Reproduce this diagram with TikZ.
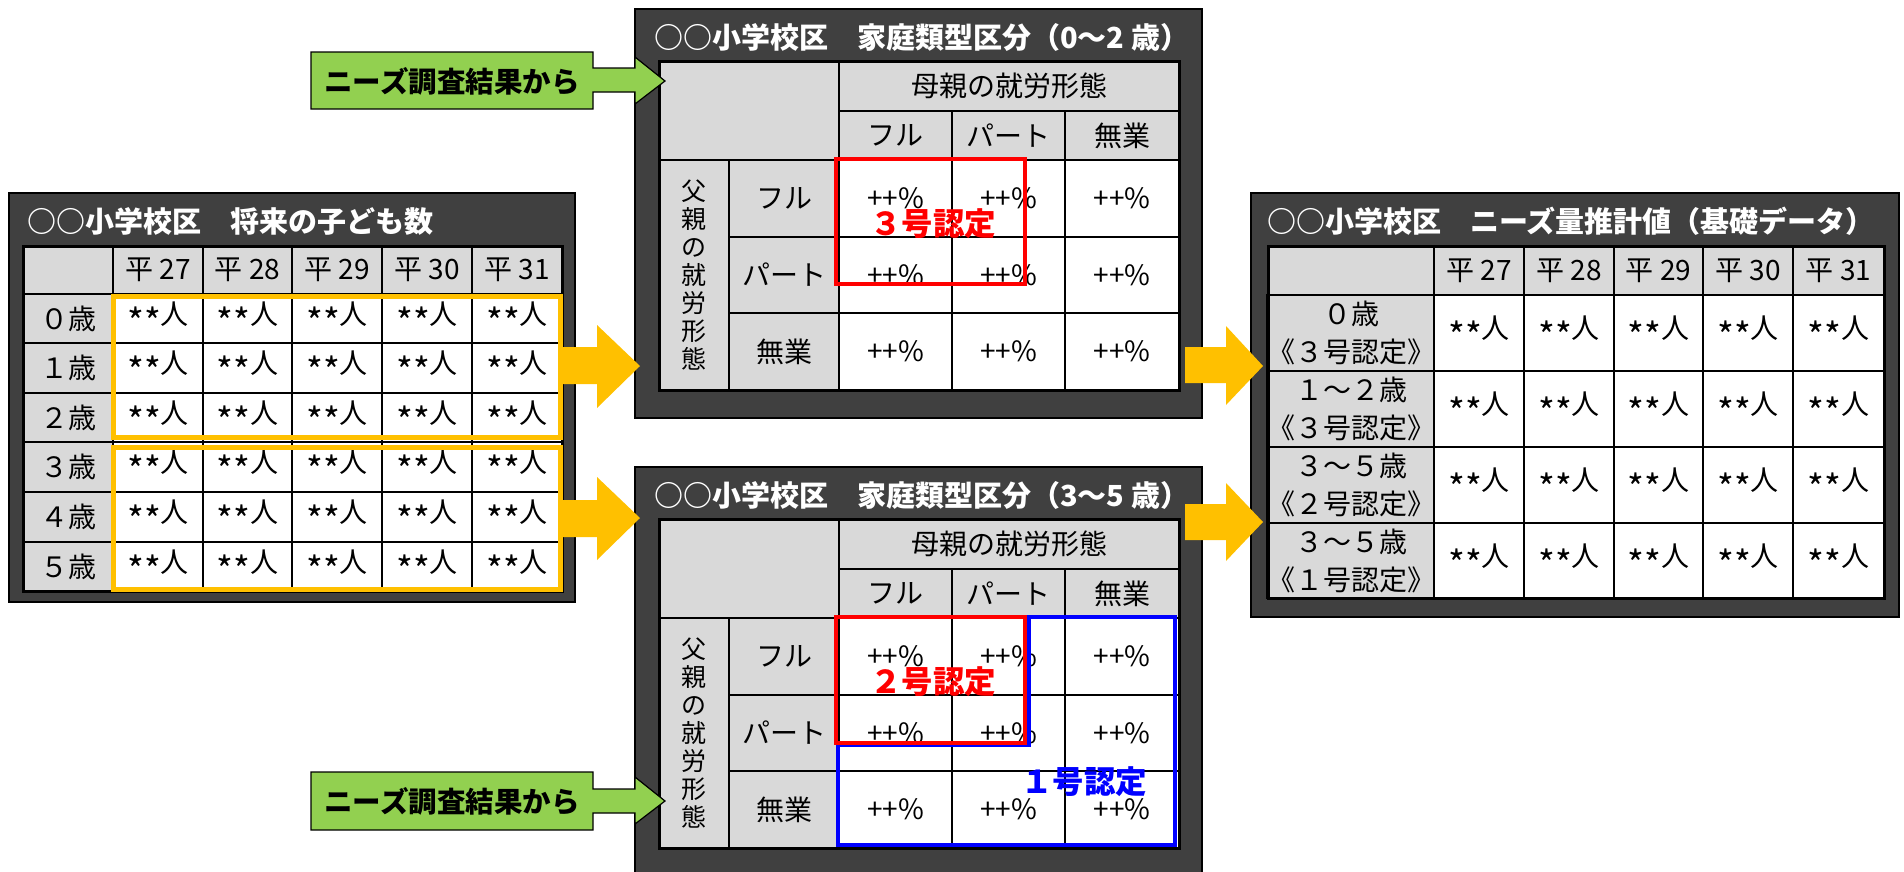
\documentclass[tikz,border=0pt]{standalone}
\usepackage{fontspec}
\setmainfont{Noto Sans CJK JP}
\definecolor{panel}{HTML}{404040}
\definecolor{hdr}{HTML}{D9D9D9}
\definecolor{ylw}{HTML}{FFC000}
\definecolor{grn}{HTML}{92D050}
\definecolor{rd}{HTML}{FF0000}
\definecolor{bl}{HTML}{0000FF}
\newcommand\fsz[2]{\fontsize{#1}{#2}\selectfont}
\newcommand\ppl{\raisebox{-11pt}{\fsz{36}{36}**}人}
% style, name, x1, y1, x2, y2, text
\newcommand\tcell[7]{\node[#1, minimum width={((#5)-(#3))*1pt}, minimum height={((#6)-(#4))*1pt}] (#2) at ({((#3)+(#5))/2},{((#4)+(#6))/2}) {#7};}
\tikzset{
  panelbox/.style={fill=panel, draw=black, line width=1.5pt, inner sep=0pt},
  hcell/.style={draw=black, line width=2pt, fill=hdr, inner sep=0pt, font=\fsz{28}{32}},
  dcell/.style={draw=black, line width=2pt, fill=white, inner sep=0pt, font=\fsz{28}{32}},
  ptitle/.style={text=white, font=\fsz{29}{32}\bfseries, anchor=west, inner sep=0pt},
  tframe/.style={draw=black, line width=3pt},
  ybox/.style={draw=ylw, line width=5pt},
  yarrow/.style={fill=ylw, draw=none},
  garrow/.style={fill=grn, draw=black, line width=1.2pt},
  gtext/.style={font=\fsz{28.5}{28.5}\bfseries, inner sep=0pt},
  rbox/.style={draw=rd, line width=4pt},
  bbox/.style={draw=bl, line width=4.5pt},
  rtext/.style={text=rd, font=\fsz{31.5}{31.5}\bfseries, inner sep=0pt},
  btext/.style={text=bl, font=\fsz{31.5}{31.5}\bfseries, inner sep=0pt},
  vtext/.style={align=center, font=\fsz{25}{28}},
  rlabel/.style={align=center, font=\fsz{28}{38}}
}
% family-type table, prefix #1
\newcommand\famtable[2]{%
  \tcell{panelbox}{#1panel}{635}{9}{1202}{418}{}
  \node[ptitle] (#1title) at (654,37) {#2};
  \tcell{hcell}{#1corner}{659}{61}{839}{160}{}
  \tcell{hcell}{#1mother}{839}{61}{1179}{111}{母親の就労形態}
  \tcell{hcell}{#1c1}{839}{111}{952}{160}{フル}
  \tcell{hcell}{#1c2}{952}{111}{1065}{160}{パート}
  \tcell{hcell}{#1c3}{1065}{111}{1179}{160}{無業}
  \tcell{hcell,vtext}{#1father}{659}{160}{729}{390}{父\\親\\の\\就\\労\\形\\態}
  \foreach \ya/\yb/\lab [count=\j] in {160/237/フル,237/313/パート,313/390/無業}{
    \tcell{hcell}{#1r\j}{729}{\ya}{839}{\yb}{\lab}
    \foreach \xa/\xb [count=\i] in {839/952,952/1065,1065/1179}{
      \tcell{dcell}{#1d\j\i}{\xa}{\ya}{\xb}{\yb}{++\%}
    }
  }
  \draw[tframe] (659,61) rectangle (1179,390);
}
\begin{document}
\begin{tikzpicture}[x=1pt,y=-1pt]
\useasboundingbox (0,0) rectangle (1904,871);

% ---------- left panel ----------
\tcell{panelbox}{Lpanel}{9}{193}{575}{602}{}
\node[ptitle] (Ltitle) at (27,221) {○○小学校区　将来の子ども数};
\tcell{hcell}{L00}{23}{246}{113}{294}{}
\foreach \xa/\xb/\lab [count=\i] in {113/203/平 27,203/292/平 28,292/382/平 29,382/472/平 30,472/562/平 31}{
  \tcell{hcell}{L0\i}{\xa}{246}{\xb}{294}{\lab}
}
\foreach \ya/\yb/\lab [count=\j] in {294/343/０歳,343/393/１歳,393/442/２歳,442/492/３歳,492/542/４歳,542/591/５歳}{
  \tcell{hcell}{L\j0}{23}{\ya}{113}{\yb}{\lab}
  \foreach \xa/\xb [count=\i] in {113/203,203/292,292/382,382/472,472/562}{
    \tcell{dcell}{L\j\i}{\xa}{\ya}{\xb}{\yb}{\ppl}
  }
}
\draw[tframe] (23,246) rectangle (562,591);
\draw[ybox] (113,296) rectangle (560,437);
\draw[ybox] (113,447) rectangle (560,589);

% ---------- middle top ----------
\famtable{T}{○○小学校区　家庭類型区分（0～2 歳）}
\draw[rbox] (836,159) rectangle (1025,284);
\node[rtext] (Tlab) at (933,224) {３号認定};

% ---------- middle bottom ----------
\begin{scope}[shift={(0,458)}]
\famtable{B}{○○小学校区　家庭類型区分（3～5 歳）}
\draw[bbox] (1029,159) -- (1175,159) -- (1175,387) -- (838,387) -- (838,287) -- (1029,287) -- cycle;
\draw[rbox] (836,159) rectangle (1025,285);
\node[rtext] (Blab2) at (933,224) {２号認定};
\node[btext] (Blab1) at (1084,324) {１号認定};
\end{scope}

% ---------- right panel ----------
\tcell{panelbox}{Rpanel}{1251}{193}{1899}{617}{}
\node[ptitle] (Rtitle) at (1267,221) {○○小学校区　ニーズ量推計値（基礎データ）};
\tcell{hcell}{R00}{1268}{246}{1434}{295}{}
\foreach \xa/\xb/\lab [count=\i] in {1434/1524/平 27,1524/1614/平 28,1614/1703/平 29,1703/1793/平 30,1793/1884/平 31}{
  \tcell{hcell}{R0\i}{\xa}{246}{\xb}{295}{\lab}
}
\foreach \ya/\yb/\lab [count=\j] in {295/371/０歳\\《３号認定》,371/447/１～２歳\\《３号認定》,447/523/３～５歳\\《２号認定》,523/598/３～５歳\\《１号認定》}{
  \tcell{hcell,rlabel}{R\j0}{1268}{\ya}{1434}{\yb}{\lab}
  \foreach \xa/\xb [count=\i] in {1434/1524,1524/1614,1614/1703,1703/1793,1793/1884}{
    \tcell{dcell}{R\j\i}{\xa}{\ya}{\xb}{\yb}{\ppl}
  }
}
\draw[tframe] (1268,246) rectangle (1884,598);

% ---------- yellow block arrows ----------
\fill[yarrow] (558,347) -- (597,347) -- (597,325) -- (640,366) -- (597,408) -- (597,384) -- (558,384) -- cycle;
\fill[yarrow] (558,500) -- (597,500) -- (597,477) -- (640,518) -- (597,560) -- (597,537) -- (558,537) -- cycle;
\fill[yarrow] (1185,347) -- (1226,347) -- (1226,326) -- (1263,366) -- (1226,405) -- (1226,383) -- (1185,383) -- cycle;
\fill[yarrow] (1185,504) -- (1226,504) -- (1226,483) -- (1263,522) -- (1226,561) -- (1226,540) -- (1185,540) -- cycle;

% ---------- green callouts ----------
\draw[garrow] (311,52) -- (593,52) -- (593,68) -- (635,68) -- (635,57) -- (665,81) -- (635,104) -- (635,92) -- (593,92) -- (593,109) -- (311,109) -- cycle;
\node[gtext] (G1) at (452,81) {ニーズ調査結果から};
\draw[garrow] (311,772) -- (593,772) -- (593,789) -- (635,789) -- (635,777) -- (665,801) -- (635,824) -- (635,813) -- (593,813) -- (593,830) -- (311,830) -- cycle;
\node[gtext] (G2) at (452,801) {ニーズ調査結果から};
\end{tikzpicture}
\end{document}
